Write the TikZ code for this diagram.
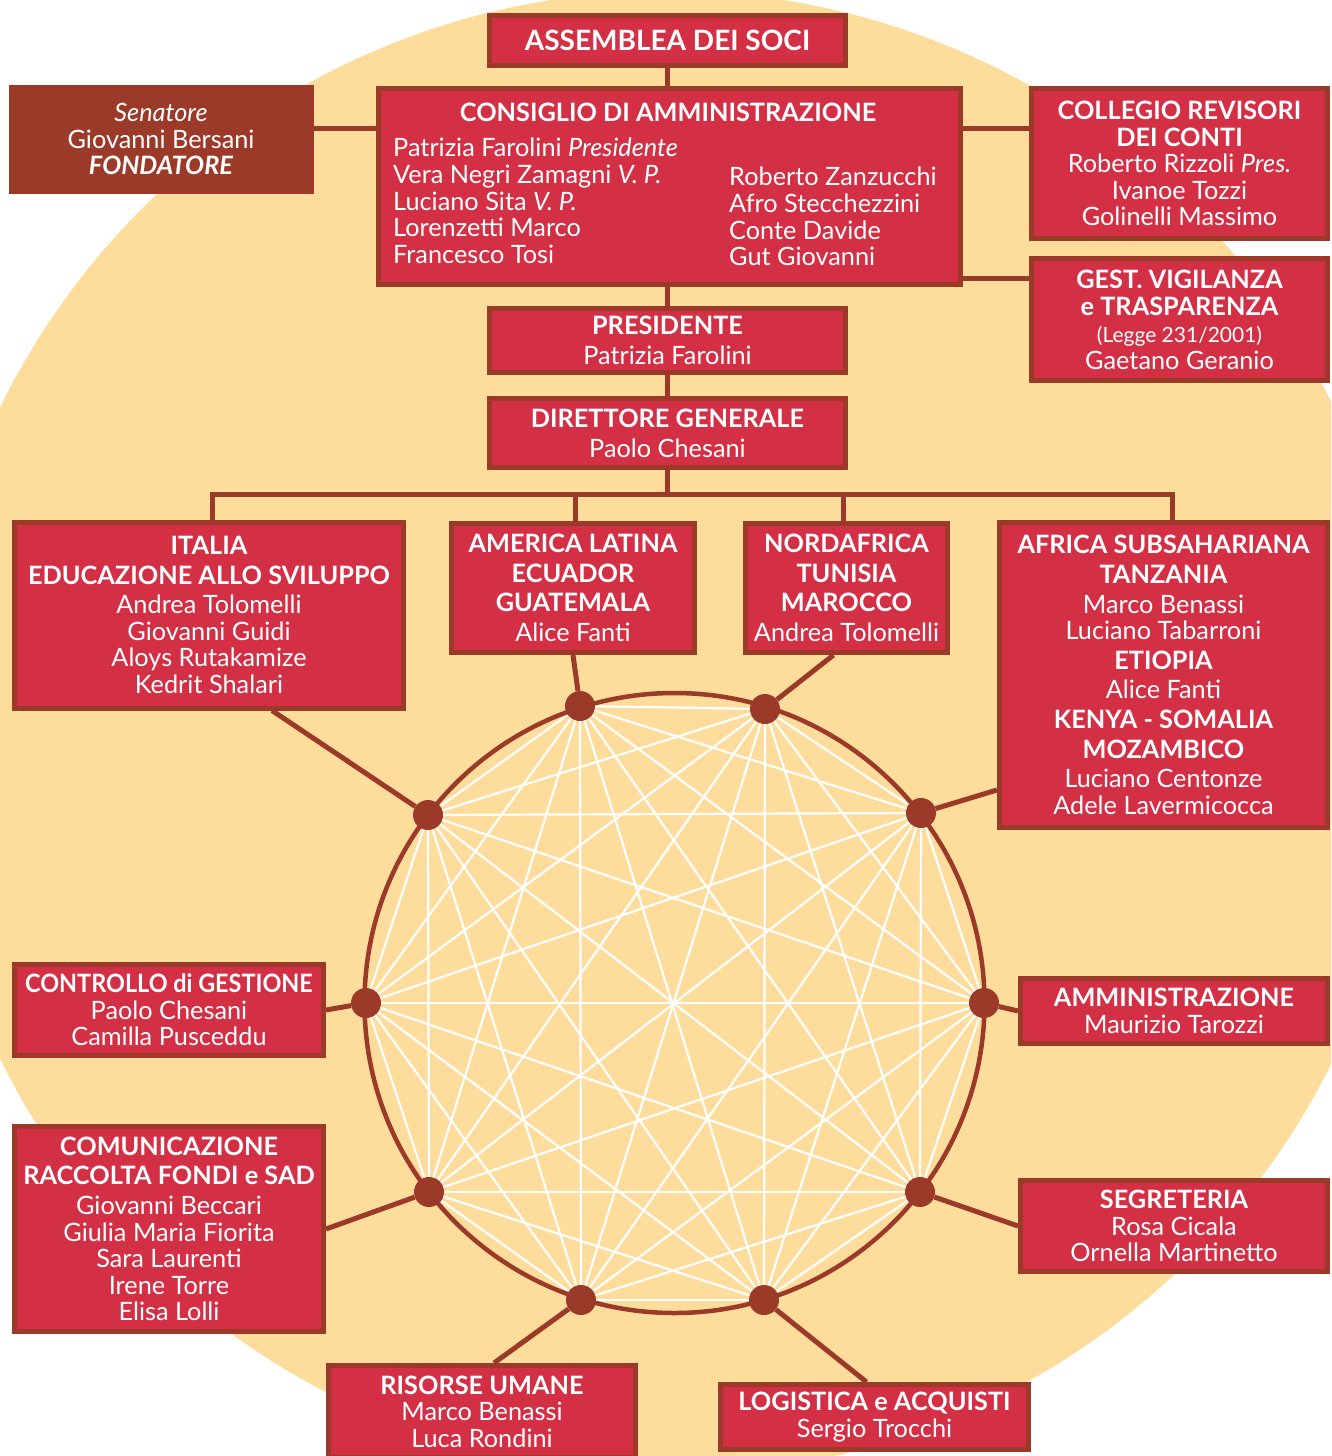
\documentclass[tikz,border=0pt]{standalone}
\usepackage{fontspec}
\setmainfont{Lato}
\usetikzlibrary{calc}
\definecolor{beige}{HTML}{FDDC9C}
\definecolor{crim}{HTML}{D32F45}
\definecolor{brn}{HTML}{9C3A2A}
\newcommand\hdg{\fontsize{25.3}{26.6}\selectfont\bfseries}
\newcommand\hdbig{\fontsize{28}{28}\selectfont\bfseries}
\begin{document}
\begin{tikzpicture}[x=1pt,y=-1pt,
  box/.style={draw=brn, line width=5pt, fill=crim, text=white, align=center, inner sep=0pt, font=\fontsize{25.3}{26.6}\selectfont},
  txt/.style={text=white, inner sep=0pt, font=\fontsize{25.3}{26.6}\selectfont},
  conn/.style={draw=brn, line width=5pt},
  dot/.style={circle, fill=brn, minimum size=30pt, inner sep=0pt},
  chord/.style={draw=white, line width=2.2pt},
]
\useasboundingbox (0,0) rectangle (1331,1456);
\clip (0,0) rectangle (1331,1456);
\fill[beige] (667,733) circle[radius=742pt];

% ring network
\coordinate (p0) at (984,1003);
\coordinate (p1) at (921,813);
\coordinate (p2) at (765,709);
\coordinate (p3) at (580,706);
\coordinate (p4) at (428,815);
\coordinate (p5) at (366,1003);
\coordinate (p6) at (429,1192);
\coordinate (p7) at (581,1300);
\coordinate (p8) at (764,1300);
\coordinate (p9) at (920,1192);
\foreach \i in {0,...,8}{
  \pgfmathtruncatemacro\s{\i+1}
  \foreach \j in {\s,...,9}{\draw[chord] (p\i) -- (p\j);}
}
\draw[brn, line width=4.5pt] (674.5,1003) circle[radius=310pt];
\foreach \k in {0,...,9}{\node[dot] (d\k) at (p\k) {};}

% top hierarchy
\node[box, minimum width=356pt, minimum height=50pt] (asm) at (667.5,40.5) {\hdbig ASSEMBLEA DEI SOCI};
\node[box, draw=brn, fill=brn, line width=0pt, minimum width=304pt, minimum height=108pt] (sen) at (161,139)
  {\itshape Senatore\\ Giovanni Bersani\\ \bfseries\itshape FONDATORE};
\node[box, minimum width=582pt, minimum height=196pt] (cons) at (669.5,186.5) {};
\node[txt, font=\hdg] (consT) at (668,112) {CONSIGLIO DI AMMINISTRAZIONE};
\node[txt, align=left, anchor=north west] (consL) at (393,138)
  {Patrizia Farolini \textit{Presidente}\\ Vera Negri Zamagni \textit{V. P.}\\ Luciano Sita \textit{V. P.}\\ Lorenzetti Marco\\ Francesco Tosi};
\node[txt, align=left, anchor=north west] (consR) at (729,167)
  {Roberto Zanzucchi\\ Afro Stecchezzini\\ Conte Davide\\ Gut Giovanni};
\node[box, minimum width=296pt, minimum height=150pt] (coll) at (1179.5,163.5)
  {{\hdg COLLEGIO REVISORI}\\ {\hdg DEI CONTI}\\ Roberto Rizzoli \textit{Pres.}\\ Ivanoe Tozzi\\ Golinelli Massimo};
\node[box, minimum width=296pt, minimum height=122pt] (gest) at (1179.5,319.5)
  {{\hdg GEST. VIGILANZA}\\[1pt] {\hdg e TRASPARENZA}\\ {\fontsize{21}{21}\selectfont (Legge 231/2001)}\\ Gaetano Geranio};
\node[box, minimum width=356pt, minimum height=64pt] (pres) at (667.5,340.5)
  {{\hdg PRESIDENTE}\\[3.4pt] Patrizia Farolini};
\node[box, minimum width=356pt, minimum height=69pt] (dir) at (667.5,433)
  {{\hdg DIRETTORE GENERALE}\\[3.4pt] Paolo Chesani};

% areas
\node[box, minimum width=389pt, minimum height=186pt] (ita) at (209,615)
  {{\hdg ITALIA}\\[3pt] {\hdg EDUCAZIONE ALLO SVILUPPO}\\[3pt] Andrea Tolomelli\\ Giovanni Guidi\\ Aloys Rutakamize\\ Kedrit Shalari};
\node[box, minimum width=243pt, minimum height=129pt] (ame) at (573,588)
  {{\hdg AMERICA LATINA}\\[3pt] {\hdg ECUADOR}\\[3pt] {\hdg GUATEMALA}\\[3pt] Alice Fanti};
\node[box, minimum width=202pt, minimum height=129pt] (nord) at (846.5,588)
  {{\hdg NORDAFRICA}\\[3pt] {\hdg TUNISIA}\\[3pt] {\hdg MAROCCO}\\[3pt] Andrea Tolomelli};
\node[box, minimum width=328pt, minimum height=305pt] (afr) at (1163.5,675)
  {{\hdg AFRICA SUBSAHARIANA}\\[3pt] {\hdg TANZANIA}\\[3pt] Marco Benassi\\ Luciano Tabarroni\\[3pt] {\hdg ETIOPIA}\\[3pt] Alice Fanti\\[3pt] {\hdg KENYA - SOMALIA}\\[3pt] {\hdg MOZAMBICO}\\[3pt] Luciano Centonze\\ Adele Lavermicocca};
\node[box, minimum width=309pt, minimum height=91pt] (ctrl) at (169,1010)
  {{\hdg\scalebox{0.925}[1]{CONTROLLO di GESTIONE}}\\ Paolo Chesani\\ Camilla Pusceddu};
\node[box, minimum width=309pt, minimum height=205pt] (com) at (169,1229)
  {{\hdg COMUNICAZIONE}\\[3pt] {\hdg RACCOLTA FONDI e SAD}\\[3pt] Giovanni Beccari\\ Giulia Maria Fiorita\\ Sara Laurenti\\ Irene Torre\\ Elisa Lolli};
\node[box, minimum width=307pt, minimum height=92pt] (ris) at (482,1411.5)
  {{\hdg RISORSE UMANE}\\ Marco Benassi\\ Luca Rondini};
\node[box, minimum width=308pt, minimum height=65pt] (log) at (874.5,1417)
  {{\hdg LOGISTICA e ACQUISTI}\\ Sergio Trocchi};
\node[box, minimum width=307pt, minimum height=65pt] (amm) at (1174,1011)
  {{\hdg AMMINISTRAZIONE}\\ Maurizio Tarozzi};
\node[box, minimum width=307pt, minimum height=91pt] (seg) at (1174,1226)
  {{\hdg SEGRETERIA}\\ Rosa Cicala\\ Ornella Martinetto};

% hierarchy connectors
\draw[conn] (asm.south) -- (asm.south |- cons.north);
\coordinate (sA) at ($(sen.east)+(0,-11)$);
\draw[conn] (sA) -- (sA -| cons.west);
\coordinate (cA) at ($(cons.east)+(0,-58.5)$);
\draw[conn] (cA) -- (cA -| coll.west);
\coordinate (cB) at ($(cons.east)+(0,92)$);
\draw[conn] (cB) -- (cB -| gest.west);
\draw[conn] (pres.north) -- (pres.north |- cons.south);
\draw[conn] (pres.south) -- (pres.south |- dir.north);
\coordinate (busL) at (212,494);
\coordinate (busR) at (1172,494);
\draw[conn] (dir.south) -- (dir.south |- busL);
\draw[conn, line join=miter] (ita.north -| busL) -- (busL) -- (busR) -- (busR |- afr.north);
\coordinate (aT) at ($(ame.north)+(2,0)$);
\draw[conn] (aT) -- (aT |- busL);
\coordinate (nT) at ($(nord.north)+(-3.5,0)$);
\draw[conn] (nT) -- (nT |- busL);

% area to ring connectors
\coordinate (iB) at ($(ita.south west)+(260,0)$);
\draw[conn] (iB) -- (d4);
\draw[conn] (ame.south) -- (d3);
\coordinate (nB) at ($(nord.south)+(-13,0)$);
\draw[conn] (nB) -- (d2);
\coordinate (fW) at ($(afr.west)+(0,115)$);
\draw[conn] (fW) -- (d1);
\draw[conn] (amm.west) -- (d0);
\draw[conn] (seg.west) -- (d9);
\coordinate (lT) at ($(log.north)+(-8,0)$);
\draw[conn] (lT) -- (d8);
\coordinate (rT) at ($(ris.north)+(12,0)$);
\draw[conn] (rT) -- (d7);
\draw[conn] (com.east) -- (d6);
\draw[conn] (ctrl.east) -- (d5);
\end{tikzpicture}
\end{document}
